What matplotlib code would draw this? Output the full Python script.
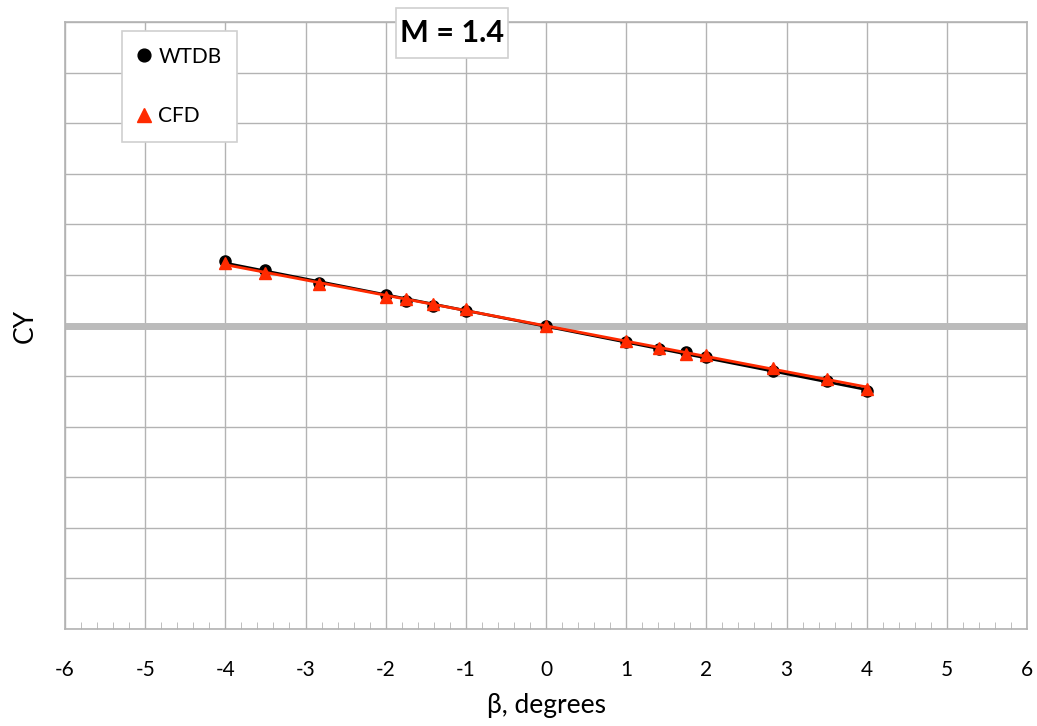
import numpy as np
import matplotlib
matplotlib.use('Agg')
import matplotlib.pyplot as plt
from matplotlib.patches import Rectangle
from matplotlib.ticker import MultipleLocator, NullFormatter

plt.rcParams['font.family'] = ['Lato', 'DejaVu Sans']
plt.rcParams['axes.unicode_minus'] = False

# sideslip angles, degrees
beta = [-4, -3.5, -2.83, -2, -1.75, -1.41, -1, 0, 1, 1.41, 1.75, 2, 2.83, 3.5, 4]
# CY in grid units (axis has no labelled values)
cy_wtdb = [1.28, 1.09, 0.85, 0.61, 0.49, 0.38, 0.28, 0.0,
           -0.33, -0.46, -0.53, -0.63, -0.89, -1.10, -1.30]
cy_cfd = [1.23, 1.03, 0.83, 0.56, 0.53, 0.43, 0.32, 0.0,
          -0.31, -0.44, -0.56, -0.59, -0.84, -1.05, -1.25]

grid_col = '#b3b3b3'
W, H = 1037, 726

fig = plt.figure(figsize=(W / 100, H / 100), dpi=100)
ax = fig.add_axes([0.0627, 0.1336, 0.9277, 0.8361])

ax.set_xlim(-6, 6)
ax.set_ylim(-6, 6)
ax.xaxis.set_major_locator(MultipleLocator(1))
ax.xaxis.set_minor_locator(MultipleLocator(0.2))
ax.yaxis.set_major_locator(MultipleLocator(1))
ax.yaxis.set_major_formatter(NullFormatter())
ax.grid(True, which='major', color=grid_col, lw=1.0)
ax.set_axisbelow(True)
ax.tick_params(axis='x', which='major', length=0, labelsize=15, pad=22)
ax.tick_params(axis='x', which='minor', direction='in', length=5, color=grid_col)
ax.tick_params(axis='y', length=0)
for s in ax.spines.values():
    s.set_color(grid_col)
    s.set_linewidth(1.2)

ax.axhline(0, color='#bbbbbb', lw=5, zorder=1.5)

# linear trendlines
xs = np.array([min(beta), max(beta)])
k1 = np.polyfit(beta, cy_wtdb, 1)
k2 = np.polyfit(beta, cy_cfd, 1)

ax.plot(beta, cy_wtdb, 'o', color='black', ms=8, label='WTDB', zorder=3)
ax.plot(xs, np.polyval(k1, xs), '-', color='black', lw=2, zorder=4)
ax.plot(beta, cy_cfd, '^', color='#ff2a00', ms=9, label='CFD', zorder=5)
ax.plot(xs, np.polyval(k2, xs), '-', color='#ff2a00', lw=2, zorder=6)

ax.set_xlabel('β, degrees', fontsize=19, labelpad=10)
ax.set_ylabel('CY', fontsize=19, labelpad=16)

leg = ax.legend(loc='upper left', bbox_to_anchor=(122 / W, 1 - 31 / H),
                bbox_transform=fig.transFigure, borderaxespad=0,
                fontsize=15, labelspacing=1.9, handletextpad=0.4,
                handlelength=0.6, borderpad=0.75, fancybox=False,
                framealpha=1, edgecolor='#d0d0d0', markerscale=1.15)
leg.get_frame().set_linewidth(1.2)

# title box
fig.patches.append(Rectangle((396 / W, 1 - 58 / H), 112 / W, 50 / H,
                             transform=fig.transFigure, fc='white',
                             ec='#d0d0d0', lw=1.2, zorder=9))
fig.text(452 / W, 1 - 33 / H, 'M = 1.4', fontsize=22, fontweight='bold',
         ha='center', va='center', zorder=10)

fig.savefig('out.png', dpi=100)
